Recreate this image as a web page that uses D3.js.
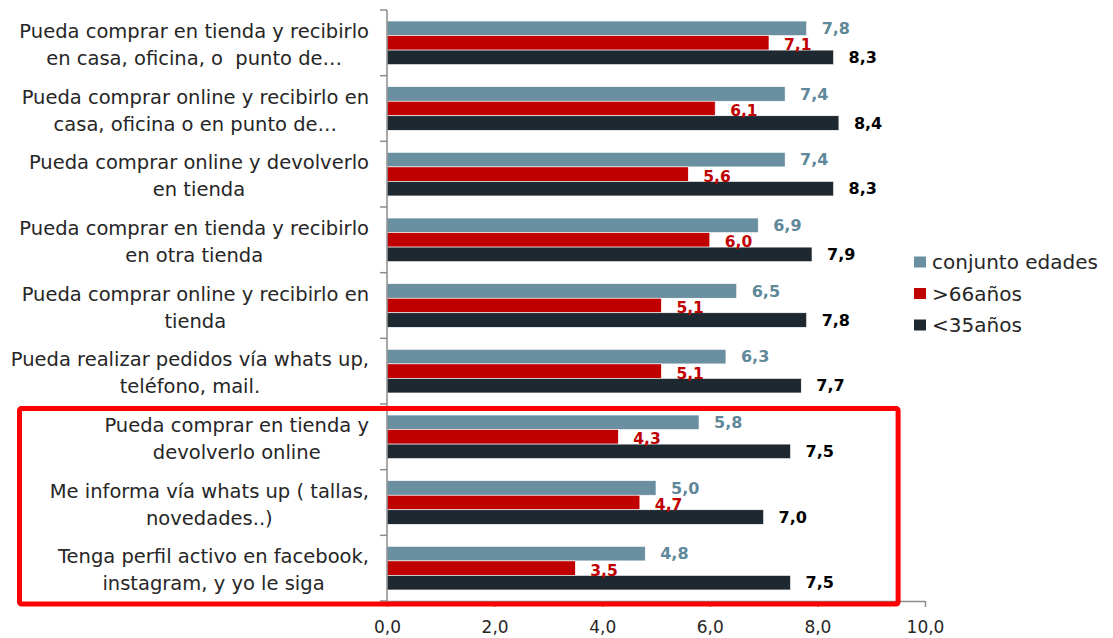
<!DOCTYPE html>
<html>
<head>
<meta charset="utf-8">
<script src="https://cdn.jsdelivr.net/npm/d3@7"></script>
<style>
  html, body { margin: 0; padding: 0; background: #ffffff; }
  svg { display: block; font-family: "DejaVu Sans", "Noto Sans", sans-serif; }
</style>
</head>
<body>
<svg id="chart" width="1113" height="638"></svg>
<script>
// Category labels (each entry holds the wrapped lines)
const categories = [
  ["Pueda comprar en tienda y recibirlo", "en casa, oficina, o  punto de…"],
  ["Pueda comprar online y recibirlo en", "casa, oficina o en punto de…"],
  ["Pueda comprar online y devolverlo", "en tienda"],
  ["Pueda comprar en tienda y recibirlo", "en otra tienda"],
  ["Pueda comprar online y recibirlo en", "tienda"],
  ["Pueda realizar pedidos vía whats up,", "teléfono, mail."],
  ["Pueda comprar en tienda y", "devolverlo online"],
  ["Me informa vía whats up ( tallas,", "novedades..)"],
  ["Tenga perfil activo en facebook,", "instagram, y yo le siga"]
];

const seriesNames = ["conjunto edades", ">66años", "<35años"];
const conjuntoEdades = [7.8, 7.4, 7.4, 6.9, 6.5, 6.3, 5.8, 5.0, 4.8];
const mayores66 = [7.1, 6.1, 5.6, 6.0, 5.1, 5.1, 4.3, 4.7, 3.5];
const menores35 = [8.3, 8.4, 8.3, 7.9, 7.8, 7.7, 7.5, 7.0, 7.5];
const xTicks = [0, 2, 4, 6, 8, 10];

// Highlighted block of categories (first and last index)
const highlightRange = [6, 8];

const colors = ["#6a8fa0", "#c00000", "#1e2830"];
const labelColors = ["#5f889a", "#c00000", "#000000"];
const labelSizes = [16, 15.5, 16];

const seriesValues = [conjuntoEdades, mayores66, menores35];
const locale = d3.formatLocale({ decimal: ",", thousands: ".", grouping: [3], currency: ["", "€"] });
const fmt = locale.format(".1f");

const svg = d3.select("#chart");
const plot = { left: 387, right: 925, top: 10, bottom: 601 };

const x = d3.scaleLinear().domain([0, 10]).range([plot.left, plot.right]);
const y = d3.scaleBand().domain(d3.range(categories.length)).range([plot.top, plot.bottom]).padding(0);
const ySub = d3.scaleBand().domain(d3.range(3)).range([0, y.bandwidth()]).paddingInner(0).paddingOuter(0.76);

// Bars
const groups = svg.append("g").selectAll("g")
  .data(categories.map((c, i) => i))
  .join("g")
  .attr("transform", i => `translate(0,${y(i)})`);

groups.selectAll("rect")
  .data(i => seriesValues.map((vals, s) => ({ s, v: vals[i] })))
  .join("rect")
  .attr("x", x(0))
  .attr("y", d => ySub(d.s))
  .attr("width", d => x(d.v) - x(0))
  .attr("height", ySub.bandwidth())
  .attr("fill", d => colors[d.s])
  .attr("stroke", "#ffffff")
  .attr("stroke-width", 0.6);

// Value labels
groups.selectAll("text.val")
  .data(i => seriesValues.map((vals, s) => ({ s, v: vals[i] })))
  .join("text")
  .attr("class", "val")
  .attr("x", d => x(d.v) + 15)
  .attr("y", d => ySub(d.s) + ySub.bandwidth() / 2 + (d.s === 1 ? 2 : 0))
  .attr("dy", "0.36em")
  .attr("fill", d => labelColors[d.s])
  .attr("font-size", d => labelSizes[d.s])
  .attr("font-weight", "bold")
  .text(d => fmt(d.v));

// X axis
const xAxis = d3.axisBottom(x).tickValues(xTicks).tickSize(6).tickSizeOuter(0).tickFormat(fmt);
const gx = svg.append("g").attr("transform", `translate(0,${plot.bottom})`).call(xAxis);
gx.select(".domain").attr("stroke", "#8c8c8c").attr("stroke-width", 1.5);
gx.selectAll(".tick line").attr("stroke", "#8c8c8c").attr("stroke-width", 1.5);
gx.selectAll(".tick text").attr("font-size", 17).attr("fill", "#262626")
  .attr("font-family", "'DejaVu Sans', 'Noto Sans', sans-serif").attr("dy", "1.35em");

// Y axis line and category boundary ticks
const boundaries = d3.range(categories.length + 1).map(i => plot.top + i * y.step());
const gy = svg.append("g");
gy.append("line")
  .attr("x1", x(0)).attr("x2", x(0))
  .attr("y1", plot.top).attr("y2", plot.bottom)
  .attr("stroke", "#8c8c8c").attr("stroke-width", 1.5);
gy.selectAll("line.tk").data(boundaries).join("line")
  .attr("class", "tk")
  .attr("x1", x(0) - 7).attr("x2", x(0))
  .attr("y1", d => d).attr("y2", d => d)
  .attr("stroke", "#8c8c8c").attr("stroke-width", 1.5);

// Category labels: lines centred inside a block right-aligned next to the axis
const labelRight = x(0) - 18;
const lineGap = 27;
categories.forEach((lines, i) => {
  const cy = y(i) + y.bandwidth() / 2 + 2;
  const g = svg.append("g");
  const texts = lines.map((ln, k) => g.append("text")
    .attr("y", cy + (k - (lines.length - 1) / 2) * lineGap)
    .attr("dy", "0.35em")
    .attr("text-anchor", "middle")
    .attr("font-size", 19.5)
    .attr("fill", "#262626")
    .style("white-space", "pre")
    .text(ln));
  const maxW = d3.max(texts, t => t.node().getComputedTextLength());
  texts.forEach(t => t.attr("x", labelRight - maxW / 2));
});

// Highlight frame around the last categories
const frameTop = y(highlightRange[0]) + 4.5;
const frameBottom = plot.bottom + 3;
svg.append("rect")
  .attr("x", 19.5)
  .attr("y", frameTop)
  .attr("width", x(9.5) - 19.5)
  .attr("height", frameBottom - frameTop)
  .attr("rx", 2)
  .attr("fill", "none")
  .attr("stroke", "#ff0000")
  .attr("stroke-width", 5);

// Legend
const legend = svg.append("g").attr("transform", "translate(914,262)");
const items = legend.selectAll("g").data(seriesNames).join("g")
  .attr("transform", (d, i) => `translate(0,${i * 31.5})`);
items.append("rect").attr("x", 0).attr("y", -5.5).attr("width", 12).attr("height", 11)
  .attr("fill", (d, i) => colors[i]);
items.append("text").attr("x", 18).attr("dy", "0.35em")
  .attr("font-size", 20).attr("fill", "#262626").text(d => d);
</script>
</body>
</html>
